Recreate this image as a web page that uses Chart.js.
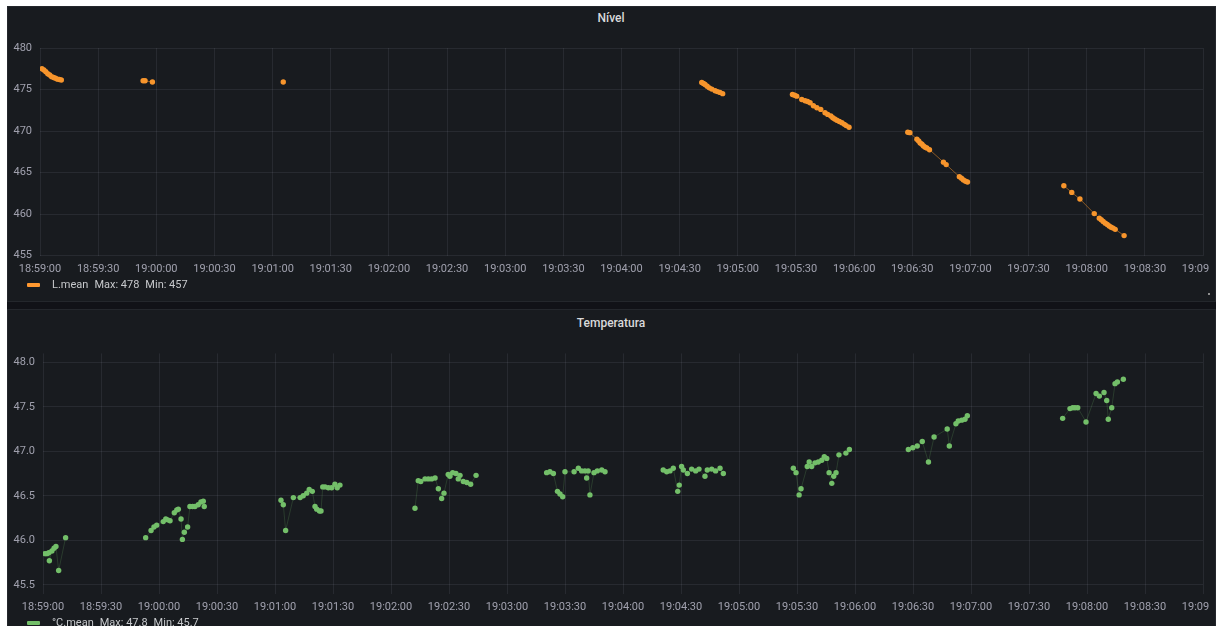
<!DOCTYPE html>
<html>
<head>
<meta charset="utf-8">
<script src="https://cdn.jsdelivr.net/npm/chart.js@4.4.1/dist/chart.umd.min.js"></script>
<style>
  html, body { margin: 0; padding: 0; }
  body { width: 1216px; height: 626px; overflow: hidden; position: relative; background: #ffffff; font-family: Roboto, "Noto Sans", sans-serif; }
  .panel { position: absolute; background: #181b1f; box-sizing: border-box; border: 1px solid #24272c; }
  .gap { position: absolute; background: #111217; }
  .title { position: absolute; width: 200px; text-align: center; color: #d8d9da; font-size: 12px; font-weight: 500; line-height: 14px; }
  .box { position: absolute; }
  .legend { position: absolute; color: #c7c9cc; font-size: 11px; line-height: 14px; white-space: nowrap; }
  .legend span { margin-right: 6px; }
  .swatch { position: absolute; width: 13px; height: 4px; border-radius: 1px; }
</style>
</head>
<body>
<div class="panel" style="left:7px;top:6px;width:1209px;height:296px;"></div>
<div class="gap" style="left:7px;top:302px;width:1209px;height:7px;"></div>
<div class="panel" style="left:7px;top:309px;width:1209px;height:330px;"></div>

<div class="title" style="left:511px;top:11px;">Nível</div>
<div class="title" style="left:511px;top:316px;">Temperatura</div>

<div class="box" style="left:0;top:0;width:1209px;height:300px;"><canvas id="nivel"></canvas></div>
<div class="box" style="left:0;top:309px;width:1209px;height:317px;"><canvas id="temp"></canvas></div>

<div class="swatch" style="left:27px;top:283px;background:#ff9830;"></div>
<div class="legend" style="left:52px;top:278px;"><span>L.mean</span><span>Max: 478</span><span>Min: 457</span></div>
<div style="position:absolute;left:1208px;top:293px;width:2px;height:2px;background:#8e8e8e;"></div>

<div class="swatch" style="left:27px;top:621px;background:#73bf69;"></div>
<div class="legend" style="left:52px;top:616px;"><span>°C.mean</span><span>Max: 47.8</span><span>Min: 45.7</span></div>

<script>
// Time axis labels, every 30 s
const timeTicks = ['18:59:00','18:59:30','19:00:00','19:00:30','19:01:00','19:01:30','19:02:00',
  '19:02:30','19:03:00','19:03:30','19:04:00','19:04:30','19:05:00','19:05:30','19:06:00',
  '19:06:30','19:07:00','19:07:30','19:08:00','19:08:30','19:09:00'];
const nivelTicks = [455, 460, 465, 470, 475, 480];
const tempTicks = [45.5, 46.0, 46.5, 47.0, 47.5, 48.0];

// Nível (L.mean): seconds after 18:59:00, null = no data
const nivelSec = [1,2,3,4,5,6,7,8,9,10,11, 30,
  53.2,54.2,58, 90,
  125.5, 200,
  341.4,342.3,343.1,344.2,345.3,346.6,348.3,349.5,350.8,352.2, 370,
  388.2,389.3,390.4,393,394.7,396,397.3,399,400.8,402.8,405,406.4,408,409,410,411.1,412.4,413.7,415,415.9,417.4, 430,
  447.7,448.8,452.4,453.3,454.1,455,455.8,456.7,457.5,458.9,466.1,467.5,474.3,475.4,476.4,477.5,478.5, 500,
  528.2,532.3,536.5,543.9,546.5,547.5,548.5,549.6,550.6,551.6,552.6,553.6,554.7,559.3];
const nivelValue = [477.5,477.35,477.15,476.9,476.75,476.55,476.45,476.35,476.25,476.2,476.15, null,
  476.05,476.05,475.9, null,
  475.9, null,
  475.85,475.72,475.6,475.4,475.2,475.05,474.85,474.75,474.65,474.5, null,
  474.4,474.3,474.2,473.8,473.65,473.55,473.4,473.05,472.8,472.6,472.2,472.0,471.8,471.6,471.45,471.3,471.15,471.0,470.8,470.65,470.45, null,
  469.85,469.8,469.0,468.8,468.55,468.4,468.2,468.05,467.95,467.75,466.25,465.95,464.5,464.3,464.1,463.95,463.85, null,
  463.4,462.6,461.8,460.05,459.5,459.3,459.1,458.9,458.75,458.55,458.4,458.3,458.15,457.4];

// Temperatura (°C.mean): seconds after 18:59:00, null = no data
const tempSec = [1,2,3,3.3,4.6,5.7,6.7,8.1,11.7, 30,
  53.1,55.9,57.4,58.8,62.2,63.5,64.5,65.7,67.9,69.2,70,71.4,72.1,73.1,74.8,76,77.4,78.6,80.3,81.7,82.9,83.4, 100,
  123.1,124.3,125.5,129.5,133,134.6,136.4,137.7,139.3,140.7,141.6,143,143.8,144.7,145.9,147.6,149.3,151,152.2,153.6, 170,
  192.4,194.1,195.4,197.6,199.3,201,202.8,204.5,206.2,207.4,209.6,210.5,211.9,213.6,214.8,215.7,217.4,219.2,221.2,224, 240,
  260.5,262.2,264,266.1,267.4,268.8,270,274.7,276.9,278.6,280.3,281.2,282,282.9,285,286.7,289,290.7, 300,
  320.8,322.6,324.3,326,328.3,329.1,330.3,331.2,333.3,335.5,337.6,339.3,342.4,343.6,345.9,347.9,350.2,351.9, 370,
  388.1,389.5,391.1,392.1,395.3,396.3,397.6,399.3,401,402.8,404.1,405.4,406.6,408,409,410.2,411.7,415.3,417.1, 430,
  447.6,449.9,452.2,454.8,458,460.9,467.7,468.8,472.2,473.4,475.2,476.9,478.1, 500,
  527.4,531.2,532.6,533.8,535.2,539.5,544.7,546.4,548.8,550.2,551,552.8,554.5,555.7,558.8];
const tempValue = [45.85,45.85,45.86,45.77,45.88,45.91,45.93,45.66,46.03, null,
  46.03,46.11,46.15,46.17,46.21,46.24,46.23,46.22,46.31,46.34,46.35,46.24,46.01,46.09,46.15,46.38,46.38,46.38,46.40,46.43,46.44,46.38, null,
  46.45,46.40,46.11,46.48,46.48,46.50,46.53,46.57,46.55,46.38,46.35,46.33,46.33,46.60,46.60,46.59,46.59,46.63,46.59,46.62, null,
  46.36,46.67,46.66,46.69,46.69,46.69,46.70,46.58,46.47,46.53,46.74,46.72,46.76,46.75,46.69,46.73,46.66,46.65,46.63,46.73, null,
  46.76,46.77,46.75,46.55,46.52,46.49,46.77,46.77,46.81,46.78,46.78,46.70,46.78,46.51,46.76,46.78,46.79,46.77, null,
  46.79,46.77,46.78,46.81,46.55,46.62,46.83,46.79,46.75,46.80,46.78,46.80,46.72,46.79,46.80,46.78,46.81,46.75, null,
  46.81,46.76,46.51,46.58,46.83,46.88,46.83,46.87,46.88,46.90,46.94,46.92,46.76,46.64,46.72,46.76,46.96,46.98,47.02, null,
  47.02,47.04,47.06,47.11,46.88,47.16,47.25,47.06,47.31,47.34,47.35,47.36,47.40, null,
  47.37,47.48,47.49,47.49,47.49,47.33,47.65,47.62,47.66,47.57,47.36,47.49,47.76,47.78,47.81];

const GRID = 'rgba(204,204,220,0.09)';
const TICK = 'rgba(204,204,220,0.75)';
const FONT = { family: 'Roboto', size: 11 };

function toSec(hms) {
  const p = hms.split(':').map(Number);
  return p[0] * 3600 + p[1] * 60 + p[2];
}
const t0 = toSec(timeTicks[0]);
const tEnd = toSec(timeTicks[timeTicks.length - 1]) - t0;

function points(secs, vals) {
  return secs.map((s, i) => ({ x: s, y: vals[i] }));
}

function xScale() {
  return {
    type: 'linear', min: 0, max: tEnd,
    afterBuildTicks: ax => { ax.ticks = timeTicks.map(t => ({ value: toSec(t) - t0 })); },
    afterFit: ax => { ax.height = 30; ax.paddingLeft = 0; ax.paddingRight = 0; },
    grid: { color: GRID, drawTicks: false },
    border: { display: false },
    ticks: { color: TICK, font: FONT, padding: 7, maxRotation: 0, autoSkip: false,
      callback: (v, i) => timeTicks[i] }
  };
}

function yScale(ticks, min, max, width, digits) {
  return {
    min: min, max: max,
    afterBuildTicks: ax => { ax.ticks = ticks.map(v => ({ value: v })); },
    afterFit: ax => { ax.width = width; },
    grid: { color: GRID, drawTicks: false },
    border: { display: false },
    ticks: { color: TICK, font: FONT, padding: 8, callback: v => Number(v).toFixed(digits) }
  };
}

function makeChart(id, data, dotColor, lineColor, y, padding) {
  return new Chart(document.getElementById(id), {
    type: 'line',
    data: { datasets: [{
      data: data,
      borderColor: lineColor,
      borderWidth: 1,
      backgroundColor: dotColor,
      pointBackgroundColor: dotColor,
      pointBorderWidth: 0,
      pointRadius: 2.7,
      pointHoverRadius: 2.7,
      spanGaps: false,
      tension: 0
    }] },
    options: {
      responsive: true,
      maintainAspectRatio: false,
      animation: false,
      events: [],
      layout: { padding: padding },
      plugins: { legend: { display: false }, tooltip: { enabled: false } },
      scales: { x: xScale(), y: y }
    }
  });
}

makeChart('nivel', points(nivelSec, nivelValue), '#f7952c', 'rgba(247,149,44,0.5)',
  yScale(nivelTicks, 455, 480, 40, 0), { top: 48, bottom: 14.5, left: 0, right: 6 });

makeChart('temp', points(tempSec, tempValue), '#73bf69', 'rgba(115,191,105,0.2)',
  yScale(tempTicks, 45.4, 48.1, 43, 1), { top: 44.4, bottom: 2.3, left: 0, right: 6 });
</script>
</body>
</html>
